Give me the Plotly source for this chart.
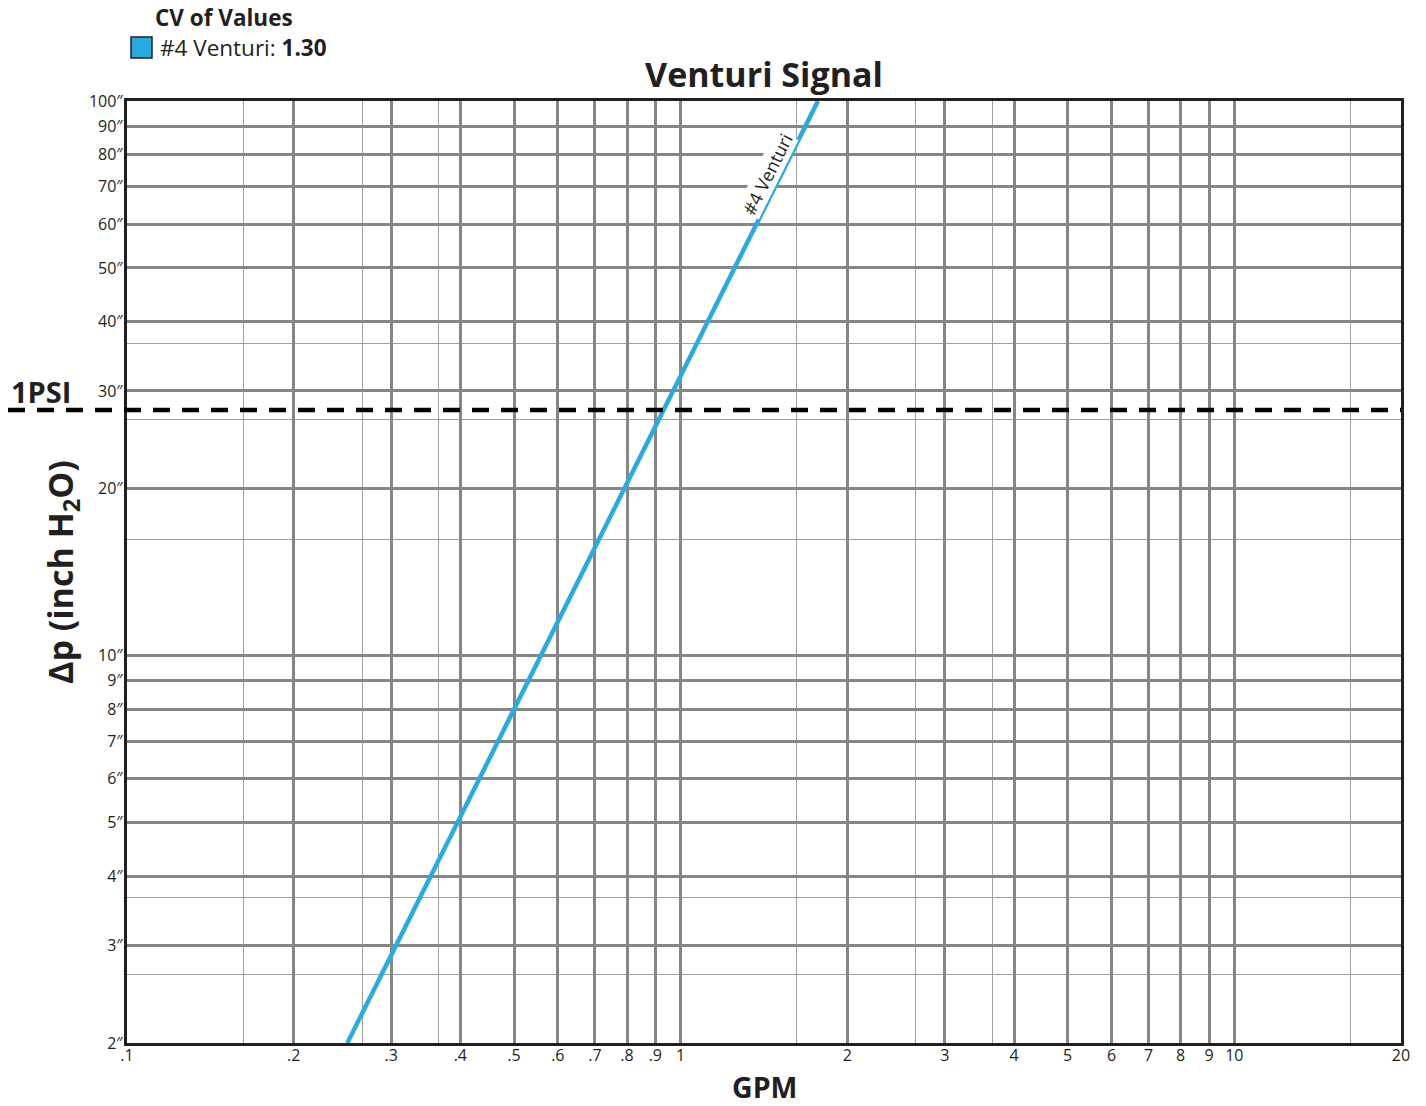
import math
import plotly.graph_objects as go

# ---- data ----
gpm = [0.25, 0.3, 0.4, 0.5, 1.0, 1.5, 1.77]
dp_venturi = [2.0, 2.88, 5.1, 8.0, 32.0, 72.0, 100.0]
series_name = "#4 Venturi"
cv_value = "1.30"
psi_in_h2o = 27.7

x_ticks = [0.1, 0.2, 0.3, 0.4, 0.5, 0.6, 0.7, 0.8, 0.9, 1, 2, 3, 4, 5, 6, 7, 8, 9, 10, 20]
x_labels = [".1", ".2", ".3", ".4", ".5", ".6", ".7", ".8", ".9", "1", "2", "3", "4", "5", "6", "7", "8", "9", "10", "20"]
x_minor = [0.162, 0.266, 0.366, 1.62, 2.66, 3.66, 16.2]
y_ticks = [2, 3, 4, 5, 6, 7, 8, 9, 10, 20, 30, 40, 50, 60, 70, 80, 90, 100]
y_labels = [f"{v}\u2033" for v in y_ticks]
y_minor = [2.66, 3.66, 16.2, 26.6, 36.6]

X_RANGE = [0.1, 20]
Y_RANGE = [2, 100]

FONT = "Open Sans"
INK = "#231f20"
BLUE = "#29abe2"
W, H = 1426, 1106
L, R, T, B = 127, 25, 101, 63
pw, ph = W - L - R, H - T - B

def px(xp):
    return (xp - L) / pw

def py(yp):
    return (H - B - yp) / ph

def y_frac(v):
    lo, hi = math.log10(Y_RANGE[0]), math.log10(Y_RANGE[1])
    return (math.log10(v) - lo) / (hi - lo)

fig = go.Figure()
fig.add_trace(go.Scatter(x=gpm, y=dp_venturi, mode="lines",
                         line=dict(color=BLUE, width=4.5), showlegend=False,
                         hoverinfo="skip"))

fig.update_layout(
    width=W, height=H,
    margin=dict(l=L, r=R, t=T, b=B),
    paper_bgcolor="white", plot_bgcolor="white",
    font=dict(family=FONT, color=INK),
    title=dict(text="<b>Venturi Signal</b>", x=0.5, xref="paper", xanchor="center",
               y=1 - 75 / H, yref="container", yanchor="middle",
               font=dict(size=34, color=INK, family=FONT)),
    showlegend=False,
)

fig.update_xaxes(
    type="log", range=[math.log10(X_RANGE[0]), math.log10(X_RANGE[1])],
    tickvals=x_ticks, ticktext=x_labels, tickfont=dict(size=16, color=INK),
    ticks="", ticklabelstandoff=-4,
    showgrid=True, gridcolor="#868686", gridwidth=2.6,
    minor=dict(tickvals=x_minor, showgrid=True, gridcolor="#a0a0a0", gridwidth=1.2, ticks=""),
    showline=True, linecolor=INK, linewidth=3, mirror=True, zeroline=False,
)
fig.update_yaxes(
    type="log", range=[math.log10(Y_RANGE[0]), math.log10(Y_RANGE[1])],
    tickvals=y_ticks, ticktext=y_labels, tickfont=dict(size=16, color=INK),
    ticks="", ticklabelstandoff=-2,
    showgrid=True, gridcolor="#868686", gridwidth=2.6,
    minor=dict(tickvals=y_minor, showgrid=True, gridcolor="#a0a0a0", gridwidth=1.2, ticks=""),
    showline=True, linecolor=INK, linewidth=3, mirror=True, zeroline=False,
)

# 1 PSI dashed reference line
psi_y = y_frac(psi_in_h2o)
fig.add_shape(type="line", xref="paper", yref="paper",
              x0=px(8), x1=1, y0=psi_y, y1=psi_y,
              line=dict(color="black", width=4.5, dash="17px,12px"), layer="above")
fig.add_annotation(xref="paper", yref="paper", x=px(9), y=psi_y,
                   text="<b>1PSI</b>", showarrow=False, xanchor="left", yanchor="bottom",
                   yshift=-3, font=dict(size=29, color=INK, family=FONT))

# Line label
lab_q = 1.52
lab_dp = dp_venturi[4] * (lab_q / gpm[4]) ** 2
fig.add_annotation(x=math.log10(lab_q), y=math.log10(lab_dp), text=series_name,
                   showarrow=False, textangle=-63.5, xshift=-14, yshift=0,
                   bgcolor="white", borderpad=0,
                   font=dict(size=18, color=INK, family=FONT))

# Axis titles
fig.add_annotation(xref="paper", yref="paper", x=0.5, y=py(1087), text="<b>GPM</b>",
                   showarrow=False, xanchor="center", yanchor="middle",
                   font=dict(size=28.5, color=INK, family=FONT))
fig.add_annotation(xref="paper", yref="paper", x=px(62), y=0.5,
                   text="<b>\u0394p (inch H<sub>2</sub>O)</b>", textangle=-90,
                   showarrow=False, xanchor="center", yanchor="middle",
                   font=dict(size=34, color=INK, family=FONT))

# Legend block
fig.add_annotation(xref="paper", yref="paper", x=px(153), y=py(18),
                   text="<b>CV of Values</b>", showarrow=False,
                   xanchor="left", yanchor="middle",
                   font=dict(size=22.5, color=INK, family=FONT))
fig.add_shape(type="rect", xref="paper", yref="paper",
              x0=px(131), x1=px(152), y0=py(58), y1=py(37),
              fillcolor=BLUE, line=dict(color=INK, width=1.5))
fig.add_annotation(xref="paper", yref="paper", x=px(158), y=py(48),
                   text=f"{series_name}: <b>{cv_value}</b>", showarrow=False,
                   xanchor="left", yanchor="middle",
                   font=dict(size=22.5, color=INK, family=FONT))

fig.write_html("out.html", config={"displayModeBar": False},
               post_script="document.body.style.margin='0';document.body.style.overflow='hidden';")
